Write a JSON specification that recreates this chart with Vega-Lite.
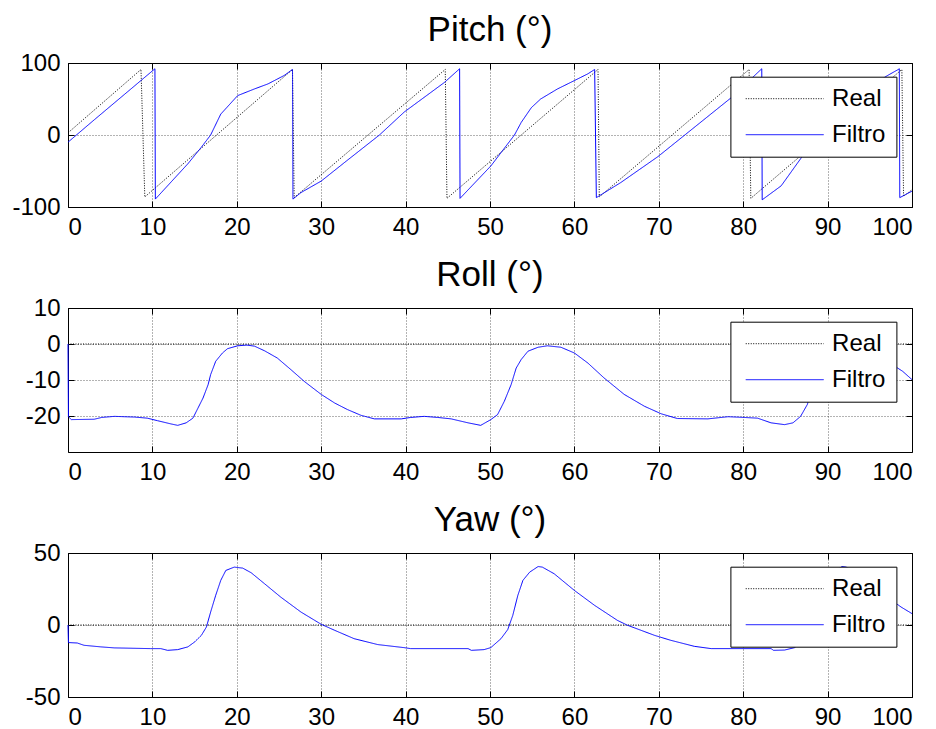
{
  "$schema": "https://vega.github.io/schema/vega-lite/v6.json",
  "background": "#ffffff",
  "padding": {"top": 12, "left": 11, "right": 4, "bottom": 4},
  "datasets": {
    "pitch": [
      {"t": 0, "v": 3, "s": "Real"}, {"t": 8.65, "v": 91, "s": "Real"}, {"t": 9.1, "v": -86, "s": "Real"},
      {"t": 26.6, "v": 91, "s": "Real"}, {"t": 26.8, "v": -87, "s": "Real"},
      {"t": 44.7, "v": 91, "s": "Real"}, {"t": 44.9, "v": -88, "s": "Real"},
      {"t": 62.8, "v": 91, "s": "Real"}, {"t": 62.95, "v": -86, "s": "Real"},
      {"t": 80.7, "v": 91, "s": "Real"}, {"t": 80.9, "v": -88, "s": "Real"},
      {"t": 98.8, "v": 91, "s": "Real"}, {"t": 99.0, "v": -85, "s": "Real"}, {"t": 100, "v": -76, "s": "Real"},
      {"t": 0, "v": -10, "s": "Filtro"}, {"t": 3.1, "v": 21, "s": "Filtro"}, {"t": 10.3, "v": 92, "s": "Filtro"},
      {"t": 10.35, "v": -89, "s": "Filtro"}, {"t": 14.2, "v": -40, "s": "Filtro"}, {"t": 15.8, "v": -17, "s": "Filtro"},
      {"t": 16.9, "v": 0, "s": "Filtro"}, {"t": 18.1, "v": 29, "s": "Filtro"}, {"t": 20.1, "v": 54.7, "s": "Filtro"},
      {"t": 22.1, "v": 64, "s": "Filtro"}, {"t": 23.7, "v": 71, "s": "Filtro"}, {"t": 25.6, "v": 82.6, "s": "Filtro"},
      {"t": 26.6, "v": 91, "s": "Filtro"}, {"t": 26.65, "v": -89, "s": "Filtro"}, {"t": 27.6, "v": -80, "s": "Filtro"},
      {"t": 30, "v": -64, "s": "Filtro"}, {"t": 33, "v": -36, "s": "Filtro"}, {"t": 36.9, "v": 0, "s": "Filtro"},
      {"t": 39.85, "v": 32, "s": "Filtro"}, {"t": 44.6, "v": 73, "s": "Filtro"}, {"t": 46.4, "v": 92, "s": "Filtro"},
      {"t": 46.45, "v": -88, "s": "Filtro"}, {"t": 50.1, "v": -43, "s": "Filtro"}, {"t": 52.9, "v": 0, "s": "Filtro"},
      {"t": 53.7, "v": 17.5, "s": "Filtro"}, {"t": 54.9, "v": 38, "s": "Filtro"}, {"t": 56, "v": 50, "s": "Filtro"},
      {"t": 58, "v": 64, "s": "Filtro"}, {"t": 60, "v": 75.6, "s": "Filtro"}, {"t": 61.6, "v": 85, "s": "Filtro"},
      {"t": 62.4, "v": 91, "s": "Filtro"}, {"t": 62.6, "v": -87, "s": "Filtro"}, {"t": 65.5, "v": -66, "s": "Filtro"},
      {"t": 69.9, "v": -30, "s": "Filtro"}, {"t": 78.6, "v": 52, "s": "Filtro"}, {"t": 82.2, "v": 92, "s": "Filtro"},
      {"t": 82.25, "v": -90, "s": "Filtro"}, {"t": 84.5, "v": -70.6, "s": "Filtro"}, {"t": 86.8, "v": -33, "s": "Filtro"},
      {"t": 88.75, "v": 0, "s": "Filtro"}, {"t": 89.9, "v": 29, "s": "Filtro"}, {"t": 91.9, "v": 54, "s": "Filtro"},
      {"t": 93.9, "v": 64, "s": "Filtro"}, {"t": 95.5, "v": 71, "s": "Filtro"}, {"t": 97.1, "v": 82.6, "s": "Filtro"},
      {"t": 98.3, "v": 90.5, "s": "Filtro"}, {"t": 98.5, "v": 92, "s": "Filtro"}, {"t": 98.55, "v": -87, "s": "Filtro"},
      {"t": 100, "v": -78, "s": "Filtro"}
    ],
    "roll": [
      {"t": 0, "v": 0, "s": "Real"}, {"t": 100, "v": 0, "s": "Real"},
      {"t": 0, "v": 0, "s": "Filtro"}, {"t": 0.05, "v": -20.2, "s": "Filtro"}, {"t": 0.4, "v": -21, "s": "Filtro"},
      {"t": 3.1, "v": -20.9, "s": "Filtro"}, {"t": 4, "v": -20.4, "s": "Filtro"}, {"t": 5.5, "v": -20.1, "s": "Filtro"},
      {"t": 7.9, "v": -20.3, "s": "Filtro"}, {"t": 9.4, "v": -20.6, "s": "Filtro"}, {"t": 10.6, "v": -21.3, "s": "Filtro"},
      {"t": 12.2, "v": -22.2, "s": "Filtro"}, {"t": 13.0, "v": -22.6, "s": "Filtro"}, {"t": 14.0, "v": -21.9, "s": "Filtro"},
      {"t": 14.8, "v": -20.6, "s": "Filtro"}, {"t": 15.4, "v": -17.8, "s": "Filtro"}, {"t": 16.0, "v": -15, "s": "Filtro"},
      {"t": 16.6, "v": -11.3, "s": "Filtro"}, {"t": 16.9, "v": -8.5, "s": "Filtro"}, {"t": 17.5, "v": -4.8, "s": "Filtro"},
      {"t": 18.3, "v": -2.5, "s": "Filtro"}, {"t": 18.9, "v": -1.3, "s": "Filtro"}, {"t": 20.1, "v": -0.5, "s": "Filtro"},
      {"t": 21.2, "v": -0.3, "s": "Filtro"}, {"t": 22.1, "v": -0.6, "s": "Filtro"}, {"t": 23.3, "v": -1.9, "s": "Filtro"},
      {"t": 24.8, "v": -3.9, "s": "Filtro"}, {"t": 26.4, "v": -7.1, "s": "Filtro"}, {"t": 28.0, "v": -10.4, "s": "Filtro"},
      {"t": 30.0, "v": -14, "s": "Filtro"}, {"t": 31.6, "v": -16.4, "s": "Filtro"}, {"t": 33.1, "v": -18.2, "s": "Filtro"},
      {"t": 34.7, "v": -19.8, "s": "Filtro"}, {"t": 36.3, "v": -20.8, "s": "Filtro"}, {"t": 39.5, "v": -20.8, "s": "Filtro"},
      {"t": 40.6, "v": -20.4, "s": "Filtro"}, {"t": 42.2, "v": -20.1, "s": "Filtro"}, {"t": 43.8, "v": -20.4, "s": "Filtro"},
      {"t": 45.4, "v": -20.8, "s": "Filtro"}, {"t": 47.4, "v": -21.9, "s": "Filtro"}, {"t": 48.9, "v": -22.6, "s": "Filtro"},
      {"t": 50.1, "v": -21, "s": "Filtro"}, {"t": 50.9, "v": -19.6, "s": "Filtro"}, {"t": 51.7, "v": -15.9, "s": "Filtro"},
      {"t": 52.5, "v": -11.3, "s": "Filtro"}, {"t": 53.1, "v": -6.7, "s": "Filtro"}, {"t": 53.7, "v": -4.3, "s": "Filtro"},
      {"t": 54.5, "v": -2, "s": "Filtro"}, {"t": 55.7, "v": -0.9, "s": "Filtro"}, {"t": 56.8, "v": -0.5, "s": "Filtro"},
      {"t": 58.4, "v": -0.9, "s": "Filtro"}, {"t": 60.0, "v": -2.5, "s": "Filtro"}, {"t": 61.6, "v": -5.3, "s": "Filtro"},
      {"t": 63.5, "v": -9.4, "s": "Filtro"}, {"t": 65.9, "v": -14, "s": "Filtro"}, {"t": 68.3, "v": -17.3, "s": "Filtro"},
      {"t": 70.3, "v": -19.4, "s": "Filtro"}, {"t": 72.2, "v": -20.7, "s": "Filtro"}, {"t": 75.8, "v": -20.8, "s": "Filtro"},
      {"t": 78.2, "v": -20.2, "s": "Filtro"}, {"t": 80.1, "v": -20.4, "s": "Filtro"}, {"t": 81.7, "v": -20.6, "s": "Filtro"},
      {"t": 83.3, "v": -21.9, "s": "Filtro"}, {"t": 84.9, "v": -22.4, "s": "Filtro"}, {"t": 85.9, "v": -21.9, "s": "Filtro"},
      {"t": 86.8, "v": -20.1, "s": "Filtro"}, {"t": 87.6, "v": -16.8, "s": "Filtro"}, {"t": 88.3, "v": -11.3, "s": "Filtro"},
      {"t": 88.9, "v": -6.7, "s": "Filtro"}, {"t": 89.5, "v": -4.3, "s": "Filtro"}, {"t": 90.3, "v": -2, "s": "Filtro"},
      {"t": 91.5, "v": -0.9, "s": "Filtro"}, {"t": 92.6, "v": -0.5, "s": "Filtro"}, {"t": 94.2, "v": -0.9, "s": "Filtro"},
      {"t": 95.8, "v": -2.5, "s": "Filtro"}, {"t": 97.4, "v": -5.3, "s": "Filtro"}, {"t": 98.9, "v": -7.6, "s": "Filtro"},
      {"t": 100, "v": -9.9, "s": "Filtro"}
    ],
    "yaw": [
      {"t": 0, "v": 0, "s": "Real"}, {"t": 100, "v": 0, "s": "Real"},
      {"t": 0, "v": 0, "s": "Filtro"}, {"t": 0.05, "v": -12.2, "s": "Filtro"}, {"t": 1.1, "v": -12.5, "s": "Filtro"},
      {"t": 1.9, "v": -14.1, "s": "Filtro"}, {"t": 3.9, "v": -15.2, "s": "Filtro"}, {"t": 5.5, "v": -15.9, "s": "Filtro"},
      {"t": 9.8, "v": -16.4, "s": "Filtro"}, {"t": 11.0, "v": -16.4, "s": "Filtro"}, {"t": 11.8, "v": -17.6, "s": "Filtro"},
      {"t": 13.0, "v": -17.1, "s": "Filtro"}, {"t": 14.2, "v": -15.2, "s": "Filtro"}, {"t": 15.0, "v": -11.8, "s": "Filtro"},
      {"t": 15.8, "v": -7.2, "s": "Filtro"}, {"t": 16.4, "v": -1.4, "s": "Filtro"}, {"t": 16.9, "v": 9, "s": "Filtro"},
      {"t": 17.5, "v": 20.6, "s": "Filtro"}, {"t": 18.1, "v": 31, "s": "Filtro"}, {"t": 18.7, "v": 37.9, "s": "Filtro"},
      {"t": 19.7, "v": 40.2, "s": "Filtro"}, {"t": 20.7, "v": 39.5, "s": "Filtro"}, {"t": 21.7, "v": 36.3, "s": "Filtro"},
      {"t": 23.3, "v": 28.6, "s": "Filtro"}, {"t": 25.2, "v": 19.4, "s": "Filtro"}, {"t": 27.6, "v": 9, "s": "Filtro"},
      {"t": 30.0, "v": 0.5, "s": "Filtro"}, {"t": 31.6, "v": -3.7, "s": "Filtro"}, {"t": 33.9, "v": -9.5, "s": "Filtro"},
      {"t": 36.7, "v": -13.6, "s": "Filtro"}, {"t": 39.8, "v": -15.7, "s": "Filtro"}, {"t": 40.6, "v": -16.4, "s": "Filtro"},
      {"t": 47.4, "v": -16.4, "s": "Filtro"}, {"t": 47.8, "v": -17.6, "s": "Filtro"}, {"t": 49.3, "v": -17.1, "s": "Filtro"},
      {"t": 50.1, "v": -15.7, "s": "Filtro"}, {"t": 51.3, "v": -9.5, "s": "Filtro"}, {"t": 52.1, "v": -3.2, "s": "Filtro"},
      {"t": 52.7, "v": 6.7, "s": "Filtro"}, {"t": 53.3, "v": 20.6, "s": "Filtro"}, {"t": 53.9, "v": 31, "s": "Filtro"},
      {"t": 54.7, "v": 36.7, "s": "Filtro"}, {"t": 55.7, "v": 40.6, "s": "Filtro"}, {"t": 56.2, "v": 40.2, "s": "Filtro"},
      {"t": 57.6, "v": 35.6, "s": "Filtro"}, {"t": 60.0, "v": 24, "s": "Filtro"}, {"t": 62.4, "v": 13.6, "s": "Filtro"},
      {"t": 65.1, "v": 3.2, "s": "Filtro"}, {"t": 66.3, "v": -0.2, "s": "Filtro"}, {"t": 69.5, "v": -7.2, "s": "Filtro"},
      {"t": 71.4, "v": -10.6, "s": "Filtro"}, {"t": 74.2, "v": -14.8, "s": "Filtro"}, {"t": 76.2, "v": -16.4, "s": "Filtro"},
      {"t": 83.3, "v": -16.4, "s": "Filtro"}, {"t": 83.6, "v": -17.6, "s": "Filtro"}, {"t": 84.9, "v": -17.4, "s": "Filtro"},
      {"t": 86.1, "v": -15.7, "s": "Filtro"}, {"t": 87.3, "v": -9.5, "s": "Filtro"}, {"t": 88.1, "v": -3.2, "s": "Filtro"},
      {"t": 88.7, "v": 6.7, "s": "Filtro"}, {"t": 89.3, "v": 20.6, "s": "Filtro"}, {"t": 89.9, "v": 31, "s": "Filtro"},
      {"t": 90.7, "v": 36.7, "s": "Filtro"}, {"t": 91.7, "v": 40.6, "s": "Filtro"}, {"t": 92.2, "v": 40.2, "s": "Filtro"},
      {"t": 93.6, "v": 35.6, "s": "Filtro"}, {"t": 96.0, "v": 24, "s": "Filtro"}, {"t": 98.7, "v": 12.5, "s": "Filtro"},
      {"t": 100, "v": 7.9, "s": "Filtro"}
    ]
  },
  "spacing": 101,
  "bounds": "flush",
  "vconcat": [
    {
      "title": "Pitch (°)",
      "width": 844,
      "height": 144,
      "data": {"name": "pitch"},
      "encoding": {
        "color": {"field": "s", "type": "nominal", "scale": {"domain": ["Real", "Filtro"], "range": ["#000000", "#0000ff"]},
          "legend": {"orient": "none", "legendX": 662.4, "legendY": 13.7}},
        "strokeDash": {"field": "s", "type": "nominal", "scale": {"domain": ["Real", "Filtro"], "range": [[1, 1.5], [1, 0]]},
          "legend": {"orient": "none", "legendX": 662.4, "legendY": 13.7}}
      },
      "layer": [
        {
          "transform": [{"filter": "datum.s == 'Real'"}],
          "mark": {"type": "line", "strokeWidth": 1},
          "encoding": {
            "x": {"field": "t", "type": "quantitative", "title": null, "scale": {"domain": [0, 100], "nice": false, "zero": false},
              "axis": {"orient": "bottom", "values": [0, 10, 20, 30, 40, 50, 60, 70, 80, 90, 100], "grid": true, "labelExpr": "'' + datum.value"}},
            "y": {"field": "v", "type": "quantitative", "title": null, "scale": {"domain": [-100, 100], "nice": false, "zero": false},
              "axis": {"orient": "left", "values": [-100, 0, 100], "grid": true, "labelExpr": "'' + datum.value"}}
          }
        },
        {
          "transform": [{"filter": "datum.s == 'Filtro'"}],
          "mark": {"type": "line", "strokeWidth": 1},
          "encoding": {
            "x": {"field": "t", "type": "quantitative", "title": null, "scale": {"domain": [0, 100], "nice": false, "zero": false},
              "axis": {"orient": "top", "values": [0, 10, 20, 30, 40, 50, 60, 70, 80, 90, 100], "grid": false, "labels": false}},
            "y": {"field": "v", "type": "quantitative", "title": null, "scale": {"domain": [-100, 100], "nice": false, "zero": false},
              "axis": {"orient": "right", "values": [-100, 0, 100], "grid": false, "labels": false}}
          }
        }
      ],
      "resolve": {"scale": {"x": "independent", "y": "independent"}}
    },
    {
      "title": "Roll (°)",
      "width": 844,
      "height": 144,
      "data": {"name": "roll"},
      "encoding": {
        "color": {"field": "s", "type": "nominal", "scale": {"domain": ["Real", "Filtro"], "range": ["#000000", "#0000ff"]},
          "legend": {"orient": "none", "legendX": 662.4, "legendY": 13.7}},
        "strokeDash": {"field": "s", "type": "nominal", "scale": {"domain": ["Real", "Filtro"], "range": [[1, 1.5], [1, 0]]},
          "legend": {"orient": "none", "legendX": 662.4, "legendY": 13.7}}
      },
      "layer": [
        {
          "transform": [{"filter": "datum.s == 'Real'"}],
          "mark": {"type": "line", "strokeWidth": 1},
          "encoding": {
            "x": {"field": "t", "type": "quantitative", "title": null, "scale": {"domain": [0, 100], "nice": false, "zero": false},
              "axis": {"orient": "bottom", "values": [0, 10, 20, 30, 40, 50, 60, 70, 80, 90, 100], "grid": true, "labelExpr": "'' + datum.value"}},
            "y": {"field": "v", "type": "quantitative", "title": null, "scale": {"domain": [-30, 10], "nice": false, "zero": false},
              "axis": {"orient": "left", "values": [-20, -10, 0, 10], "grid": true, "labelExpr": "'' + datum.value"}}
          }
        },
        {
          "transform": [{"filter": "datum.s == 'Filtro'"}],
          "mark": {"type": "line", "strokeWidth": 1},
          "encoding": {
            "x": {"field": "t", "type": "quantitative", "title": null, "scale": {"domain": [0, 100], "nice": false, "zero": false},
              "axis": {"orient": "top", "values": [0, 10, 20, 30, 40, 50, 60, 70, 80, 90, 100], "grid": false, "labels": false}},
            "y": {"field": "v", "type": "quantitative", "title": null, "scale": {"domain": [-30, 10], "nice": false, "zero": false},
              "axis": {"orient": "right", "values": [-20, -10, 0, 10], "grid": false, "labels": false}}
          }
        }
      ],
      "resolve": {"scale": {"x": "independent", "y": "independent"}}
    },
    {
      "title": "Yaw (°)",
      "width": 844,
      "height": 144,
      "data": {"name": "yaw"},
      "encoding": {
        "color": {"field": "s", "type": "nominal", "scale": {"domain": ["Real", "Filtro"], "range": ["#000000", "#0000ff"]},
          "legend": {"orient": "none", "legendX": 662.4, "legendY": 13.7}},
        "strokeDash": {"field": "s", "type": "nominal", "scale": {"domain": ["Real", "Filtro"], "range": [[1, 1.5], [1, 0]]},
          "legend": {"orient": "none", "legendX": 662.4, "legendY": 13.7}}
      },
      "layer": [
        {
          "transform": [{"filter": "datum.s == 'Real'"}],
          "mark": {"type": "line", "strokeWidth": 1},
          "encoding": {
            "x": {"field": "t", "type": "quantitative", "title": null, "scale": {"domain": [0, 100], "nice": false, "zero": false},
              "axis": {"orient": "bottom", "values": [0, 10, 20, 30, 40, 50, 60, 70, 80, 90, 100], "grid": true, "labelExpr": "'' + datum.value"}},
            "y": {"field": "v", "type": "quantitative", "title": null, "scale": {"domain": [-50, 50], "nice": false, "zero": false},
              "axis": {"orient": "left", "values": [-50, 0, 50], "grid": true, "labelExpr": "'' + datum.value"}}
          }
        },
        {
          "transform": [{"filter": "datum.s == 'Filtro'"}],
          "mark": {"type": "line", "strokeWidth": 1},
          "encoding": {
            "x": {"field": "t", "type": "quantitative", "title": null, "scale": {"domain": [0, 100], "nice": false, "zero": false},
              "axis": {"orient": "top", "values": [0, 10, 20, 30, 40, 50, 60, 70, 80, 90, 100], "grid": false, "labels": false}},
            "y": {"field": "v", "type": "quantitative", "title": null, "scale": {"domain": [-50, 50], "nice": false, "zero": false},
              "axis": {"orient": "right", "values": [-50, 0, 50], "grid": false, "labels": false}}
          }
        }
      ],
      "resolve": {"scale": {"x": "independent", "y": "independent"}}
    }
  ],
  "resolve": {
    "scale": {"color": "independent", "strokeDash": "independent"},
    "legend": {"color": "independent", "strokeDash": "independent"}
  },
  "config": {
    "font": "Liberation Sans",
    "view": {"stroke": "#000000", "strokeWidth": 1},
    "axis": {
      "labelFont": "Liberation Sans",
      "labelFontSize": 24,
      "labelColor": "#000000",
      "labelPadding": 14,
      "domain": false,
      "ticks": true,
      "tickColor": "#000000",
      "tickSize": -6,
      "tickWidth": 1,
      "gridColor": "#000000",
      "gridDash": [1, 2],
      "gridWidth": 0.8,
      "gridOpacity": 0.75
    },
    "title": {
      "font": "Liberation Sans",
      "fontSize": 35,
      "fontWeight": "normal",
      "color": "#000000",
      "anchor": "middle",
      "baseline": "alphabetic",
      "offset": 3
    },
    "legend": {
      "title": null,
      "symbolType": "M-5,0L5,0",
      "symbolSize": 243,
      "symbolStrokeWidth": 1,
      "symbolOffset": 32.3,
      "labelOffset": 35.4,
      "labelFont": "Liberation Sans",
      "labelFontSize": 24,
      "labelColor": "#000000",
      "padding": 10,
      "rowPadding": 12,
      "fillColor": "#ffffff",
      "strokeColor": "#000000"
    }
  }
}
